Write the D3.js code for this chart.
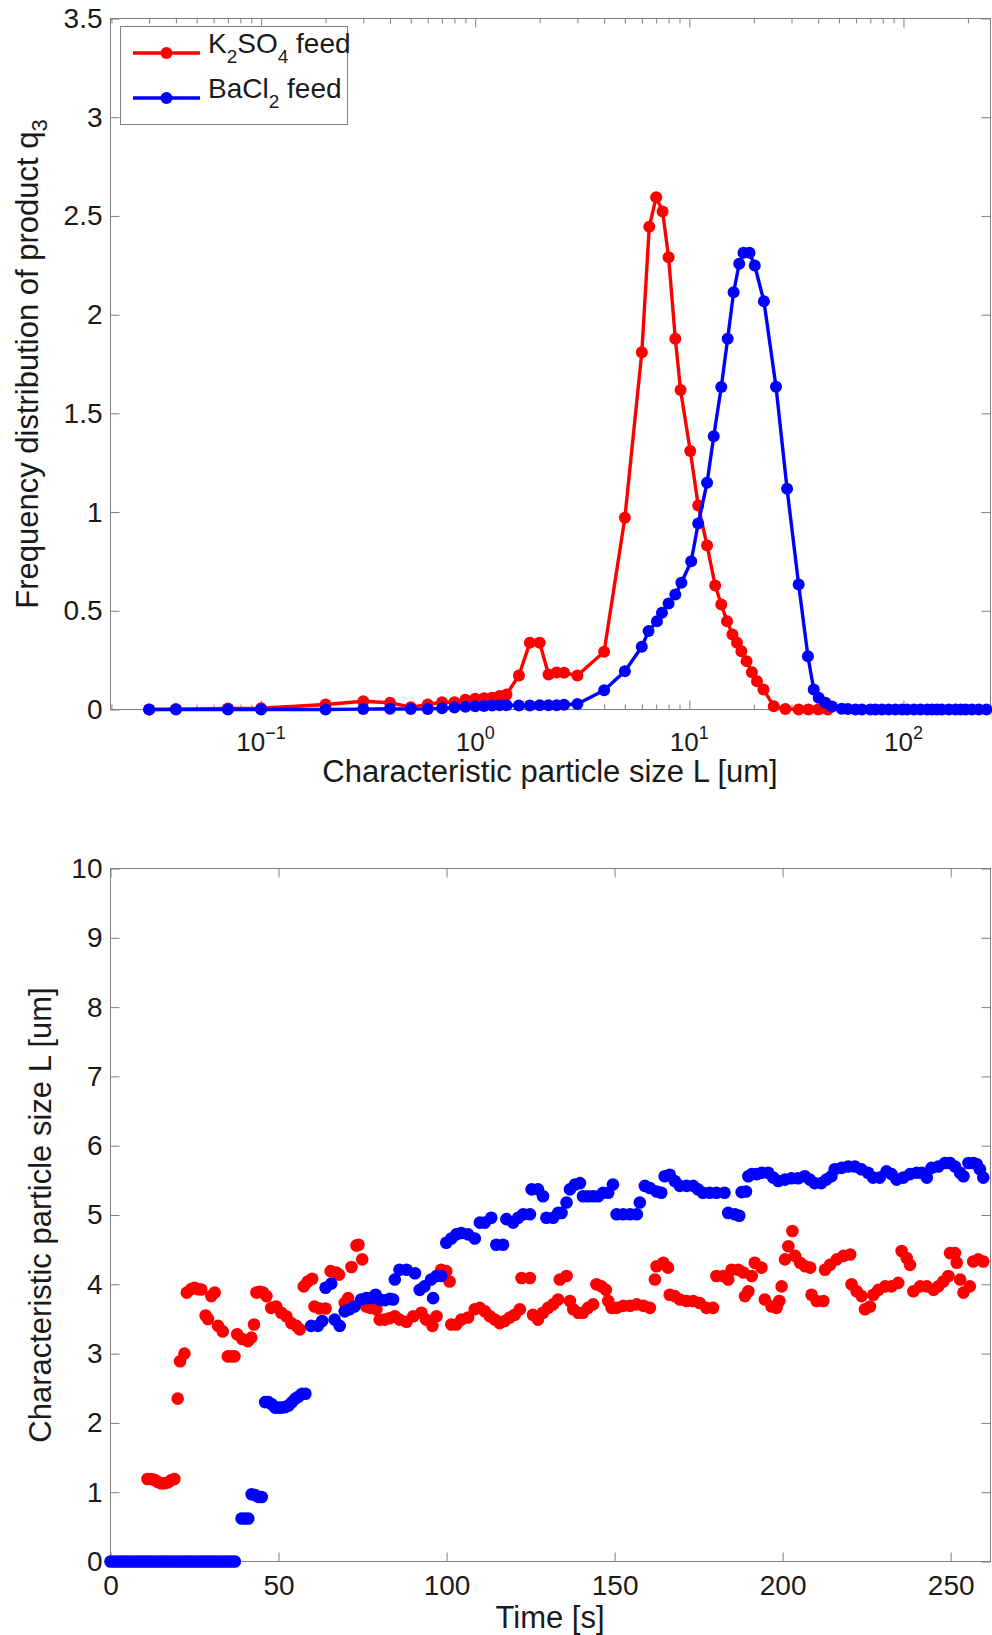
<!DOCTYPE html>
<html>
<head>
<meta charset="utf-8">
<script src="https://cdn.jsdelivr.net/npm/d3@7"></script>
<style>
  body { margin: 0; background: #fff; }
  svg { display: block; font-family: "Liberation Sans", Arial, Helvetica, sans-serif; }
</style>
</head>
<body>
<svg id="fig" width="992" height="1635"></svg>
<script>
// ---------- Product size distribution (q3 vs L) ----------
const sizeK2SO4 = [0.03, 0.04, 0.07, 0.1, 0.2, 0.3, 0.4, 0.5, 0.6, 0.7, 0.8, 0.9, 1.0, 1.1, 1.2, 1.3, 1.4,
  1.6, 1.8, 2.0, 2.2, 2.4, 2.6, 3.0, 4.0, 5.0, 6.0, 6.5, 7.0, 7.5, 8.0, 8.6, 9.1, 10.1, 11.0, 12.1,
  13.2, 14.1, 15.0, 15.9, 16.7, 17.5, 18.5, 19.6, 20.7, 22.2, 24.8, 28.1, 32.4, 36.0, 40.0, 44.3];
const q3K2SO4 = [0, 0.002, 0.005, 0.006, 0.025, 0.042, 0.034, 0.012, 0.025, 0.037, 0.037, 0.05, 0.054, 0.057, 0.06, 0.068, 0.076,
  0.172, 0.338, 0.338, 0.177, 0.187, 0.186, 0.172, 0.292, 0.971, 1.81, 2.445, 2.595, 2.523, 2.291, 1.878, 1.618, 1.309, 1.033, 0.831,
  0.628, 0.532, 0.447, 0.38, 0.338, 0.295, 0.245, 0.189, 0.143, 0.101, 0.017, 0.003, 0, 0, 0, 0];

const sizeBaCl2 = [0.03, 0.04, 0.07, 0.1, 0.2, 0.3, 0.4, 0.5, 0.6, 0.7, 0.8, 0.9, 1.0, 1.1, 1.2, 1.3, 1.4,
  1.6, 1.8, 2.0, 2.2, 2.4, 2.6, 3.0, 4.0, 5.0, 6.0, 6.45, 7.06, 7.45, 8.0, 8.6, 9.18, 10.2, 11.0, 12.1,
  13.0, 14.1, 15.1, 16.1, 17.1, 17.9, 19.1, 20.2, 22.3, 25.4, 28.6, 32.4, 35.8, 38.1, 40.2, 43.2, 46.4,
  51.5, 55, 59.7, 64, 70, 74, 79.4, 85.4, 91.8, 98.5, 104, 112, 120, 129, 136, 143.5, 151, 163, 175,
  185, 195, 209, 225, 244];
const q3BaCl2 = [0, 0, 0, 0, 0, 0.002, 0.004, 0.002, 0.003, 0.006, 0.01, 0.014, 0.016, 0.018, 0.02, 0.022, 0.022,
  0.02, 0.02, 0.022, 0.022, 0.022, 0.024, 0.028, 0.098, 0.194, 0.318, 0.397, 0.447, 0.49, 0.537, 0.583, 0.642, 0.751, 0.942, 1.148,
  1.384, 1.633, 1.878, 2.114, 2.258, 2.313, 2.313, 2.249, 2.068, 1.635, 1.118, 0.633, 0.27, 0.101, 0.059, 0.034, 0.015,
  0.004, 0.002, 0, 0, 0, 0, 0, 0, 0, 0, 0, 0, 0, 0, 0, 0, 0, 0, 0,
  0, 0, 0, 0, 0];

const q3Ticks = [0, 0.5, 1, 1.5, 2, 2.5, 3, 3.5];
const sizeTickExponents = [-1, 0, 1, 2];

// ---------- Characteristic particle size over time ----------
const timeK2SO4 = [11, 12, 13, 14, 15, 16, 17, 18, 19, 20, 20.7, 22, 22.7, 24, 25, 26, 27, 28.3, 29, 30, 31, 32, 33.4,
  34.9, 36, 36.9, 37.7, 39.2, 40.9, 41.9, 42.7, 43.4, 44.4, 45.4, 46.4, 47.8, 49.3, 50.8, 52.3, 53.8, 55.3, 56.3,
  57.5, 58.7, 60, 60.7, 62.2, 64, 65.5, 67.2, 68, 69.7, 70.7, 71.7, 73.2, 73.8, 74.9, 76.1, 77.3, 79.1, 80.1, 81.6,
  83, 84.6, 86, 88.1, 90.1, 92.5, 93.9, 95.8, 97, 98.4, 99.9, 100.9, 101.4, 102.9, 104.4, 106.4, 108.4, 109.9,
  111.4, 112.9, 114.4, 115.8, 117.3, 118.8, 120.3, 121.8, 122.3, 124.8, 125.7, 127.2, 128.7, 130.2, 131.7, 133.2,
  133.7, 135.7, 136.7, 137.7, 139.2, 140.6, 142.1, 143.6, 144.6, 146.1, 147.4, 148.1, 149.1, 150.6, 152.6, 154.6,
  156.6, 158.6, 160.5, 162, 162.5, 164.5, 165.9, 166.4, 167.9, 169.4, 171.4, 173.4, 175.3, 177.3, 179.3, 180.3,
  182.3, 183.8, 184.8, 186.8, 188.3, 188.8, 189.8, 190.8, 191.7, 193.7, 194.7, 196.7, 198.2, 199, 199.7, 200.7,
  201.7, 202.9, 203.7, 205.2, 206.7, 208.2, 208.6, 210.1, 212.1, 212.6, 214.1, 216.1, 218.1, 220.1, 220.5, 222,
  223.5, 224.5, 226, 227, 228.5, 230.5, 232.4, 234.4, 235.4, 236.9, 237.9, 238.9, 240.9, 242.9, 244.9, 246.3,
  247.8, 249.3, 249.8, 251.3, 251.8, 252.8, 253.8, 255.7, 256.7, 258.2, 259.7];
const sizeLK2SO4 = [1.19, 1.19, 1.18, 1.15, 1.13, 1.13, 1.14, 1.17, 1.19, 2.35, 2.89, 3.0, 3.88, 3.93, 3.95, 3.93, 3.925, 3.55, 3.5, 3.83, 3.88, 3.4, 3.32,
  2.96, 2.96, 2.96, 3.28, 3.21, 3.18, 3.23, 3.42, 3.88, 3.89, 3.88, 3.83, 3.66, 3.68, 3.59, 3.54, 3.44, 3.40, 3.35,
  3.97, 4.04, 4.08, 3.68, 3.65, 3.65, 4.19, 4.17, 4.14, 3.73, 3.8, 4.25, 4.56, 4.57, 4.36, 3.68, 3.66, 3.64, 3.49, 3.49,
  3.51, 3.54, 3.49, 3.46, 3.54, 3.59, 3.49, 3.40, 3.54, 4.21, 4.19, 4.04, 3.42, 3.42, 3.49, 3.52, 3.64, 3.66,
  3.61, 3.54, 3.49, 3.44, 3.47, 3.52, 3.56, 3.64, 4.09, 4.09, 3.56, 3.49, 3.59, 3.66, 3.71, 3.78,
  4.07, 4.12, 3.76, 3.64, 3.59, 3.59, 3.66, 3.71, 4.0, 3.97, 3.92, 3.76, 3.66, 3.66, 3.69, 3.69,
  3.71, 3.69, 3.66, 4.07, 4.26, 4.31, 4.24, 3.85, 3.83, 3.78, 3.76, 3.76, 3.73, 3.66, 3.66, 4.12,
  4.12, 4.07, 4.21, 4.21, 4.17, 3.83, 3.90, 4.12, 4.31, 4.24, 3.78, 3.68, 3.66, 3.76, 3.97, 4.36,
  4.55, 4.77, 4.41, 4.31, 4.26, 4.24, 3.85, 3.76, 3.76, 4.21, 4.28, 4.36, 4.41, 4.43, 4.0, 3.90,
  3.83, 3.64, 3.68, 3.85, 3.92, 3.97, 3.97, 4.02, 4.48, 4.38, 4.28, 3.90, 3.97, 3.97, 3.92, 3.97,
  4.04, 4.12, 4.45, 4.45, 4.31, 4.07, 3.88, 3.97, 4.33, 4.36, 4.33];

const timeBaCl2 = [0, 1, 2, 3, 4, 5, 6, 7, 8, 9, 10, 11, 12, 13, 14, 15, 16, 17, 18, 19, 20, 21, 22, 23, 24, 25, 26,
  27, 28, 29, 30, 31, 32, 33, 34, 35, 36, 37, 39, 40, 41, 42, 43, 44, 45, 46, 47, 48, 49, 50, 51, 52, 53, 54, 55,
  56, 57, 58, 59.7, 61.7, 63, 64, 65.7, 66.7, 68.2, 69.7, 71.1, 72.6, 74.6, 76.1, 77.6, 78.9, 80.1, 81.6, 83.1,
  84.1, 84.6, 86, 88.1, 90.6, 92, 93.4, 95.4, 96, 97, 98.4, 99.9, 101.4, 102.9, 104.4, 106.4, 108.4, 109.9, 111.4,
  113.3, 114.8, 116.8, 117.8, 119.8, 121.3, 122.8, 124.8, 125.3, 127.2, 128.7, 129.7, 131.7, 133.2, 134.2, 135.7,
  136.7, 138.2, 139.7, 140.6, 142.1, 143.6, 145.1, 146.6, 148.1, 149.5, 150.6, 152.6, 154.6, 156.6, 157.5, 159,
  160.5, 162.5, 163.9, 164.9, 166.4, 167.9, 169.4, 171.4, 173.4, 174.8, 176.3, 178.3, 180.3, 182.7, 183.8, 185.8,
  187.1, 187.8, 189.1, 189.8, 190.8, 192.3, 193.8, 195.7, 197.2, 198.7, 200.7, 202.6, 204.6, 206.6, 208.1, 209.5,
  211.5, 213, 214.5, 215.5, 217.5, 219.5, 221.5, 223.4, 225.4, 226.9, 228.9, 230.9, 232.4, 233.9, 235.9, 237.9,
  239.9, 241.4, 242.9, 244.3, 246.3, 248.3, 249.8, 251.3, 252.8, 253.8, 255.3, 256.8, 257.8, 258.7, 259.7];
const sizeLBaCl2 = [0, 0, 0, 0, 0, 0, 0, 0, 0, 0, 0, 0, 0, 0, 0, 0, 0, 0, 0, 0, 0, 0, 0, 0, 0, 0, 0,
  0, 0, 0, 0, 0, 0, 0, 0, 0, 0, 0, 0.62, 0.62, 0.62, 0.97, 0.96, 0.93, 0.93, 2.3, 2.3, 2.27, 2.22, 2.22, 2.22, 2.23, 2.25, 2.3, 2.35,
  2.38, 2.42, 2.42, 3.40, 3.40, 3.47, 3.95, 4.01, 3.49, 3.40, 3.61, 3.64, 3.68, 3.78, 3.8, 3.8, 3.85, 3.78, 3.77, 3.79,
  3.78, 4.07, 4.21, 4.21, 4.16, 3.92, 3.97, 4.07, 3.80, 4.12, 4.12, 4.60, 4.66, 4.72, 4.74, 4.72, 4.66, 4.89, 4.89,
  4.96, 4.57, 4.57, 4.94, 4.89, 4.96, 5.01, 5.01, 5.37, 5.37, 5.27, 4.96, 4.96, 5.03, 5.03, 5.18,
  5.37, 5.44, 5.46, 5.27, 5.27, 5.27, 5.27, 5.32, 5.32, 5.44, 5.01, 5.01, 5.01, 5.01, 5.18, 5.42,
  5.39, 5.34, 5.32, 5.56, 5.58, 5.49, 5.42, 5.42, 5.42, 5.37, 5.32, 5.32, 5.32, 5.32, 5.03, 5.01,
  4.99, 5.33, 5.34, 5.56, 5.59, 5.59, 5.61, 5.61, 5.54, 5.49, 5.51, 5.53, 5.53, 5.56, 5.51, 5.46,
  5.46, 5.51, 5.56, 5.66, 5.68, 5.70, 5.70, 5.66, 5.61, 5.54, 5.54, 5.63, 5.59, 5.51, 5.54, 5.59,
  5.61, 5.61, 5.54, 5.68, 5.70, 5.75, 5.75, 5.70, 5.61, 5.56, 5.75, 5.75, 5.73, 5.66, 5.54];

const timeTicks = [0, 50, 100, 150, 200, 250];
const sizeLTicks = [0, 1, 2, 3, 4, 5, 6, 7, 8, 9, 10];

// ---------- drawing ----------
const RED = "#ff0000", BLUE = "#0000ff", AXIS = "#808080", TEXT = "#1a1a1a";
const svg = d3.select("#fig");

const zip = (xs, ys) => xs.map((x, i) => [x, ys[i]]);

function styleAxis(g) {
  g.select(".domain").remove();
  g.selectAll(".tick line").attr("stroke", AXIS).attr("stroke-width", 1);
  g.selectAll(".tick text").attr("fill", TEXT).attr("font-size", 28);
}

function frame(x0, x1, y0, y1) {
  svg.append("rect")
    .attr("x", x0).attr("y", y0).attr("width", x1 - x0).attr("height", y1 - y0)
    .attr("fill", "none").attr("stroke", AXIS).attr("stroke-width", 1);
}

// ===== top panel =====
const T = { left: 110.5, right: 990.5, top: 18.5, bottom: 709.5 };
const xTop = d3.scaleLog().domain([0.0198, 255]).range([T.left, T.right]);
const yTop = d3.scaleLinear().domain([0, 3.5]).range([T.bottom, T.top]);

const majors = sizeTickExponents.map(e => Math.pow(10, e));
const minors = [];
for (let e = -2; e <= 2; e++) {
  for (let k = 2; k <= 9; k++) {
    const v = k * Math.pow(10, e);
    if (v > xTop.domain()[0] && v < xTop.domain()[1]) minors.push(v);
  }
}

svg.append("g").attr("transform", `translate(0,${T.bottom})`)
  .call(d3.axisBottom(xTop).tickValues(majors).tickSize(-9).tickFormat("")).call(styleAxis);
svg.append("g").attr("transform", `translate(0,${T.bottom})`)
  .call(d3.axisBottom(xTop).tickValues(minors).tickSize(-5).tickFormat("")).call(styleAxis);
svg.append("g").attr("transform", `translate(0,${T.top})`)
  .call(d3.axisTop(xTop).tickValues(majors).tickSize(-9).tickFormat("")).call(styleAxis);
svg.append("g").attr("transform", `translate(0,${T.top})`)
  .call(d3.axisTop(xTop).tickValues(minors).tickSize(-5).tickFormat("")).call(styleAxis);
svg.append("g").attr("transform", `translate(${T.left},0)`)
  .call(d3.axisLeft(yTop).tickValues(q3Ticks).tickSize(-9).tickPadding(8).tickFormat(d => String(d)))
  .call(styleAxis);
svg.append("g").attr("transform", `translate(${T.right},0)`)
  .call(d3.axisRight(yTop).tickValues(q3Ticks).tickSize(-9).tickFormat("")).call(styleAxis);
frame(T.left, T.right, T.top, T.bottom);

// decade labels 10^n
const decade = svg.append("g").attr("fill", TEXT);
sizeTickExponents.forEach(e => {
  const t = decade.append("text").attr("x", xTop(Math.pow(10, e))).attr("y", T.bottom + 41)
    .attr("text-anchor", "middle");
  t.append("tspan").attr("font-size", 26).text("10");
  t.append("tspan").attr("font-size", 18).attr("dy", -12).text(e < 0 ? "\u2212" + Math.abs(e) : String(e));
});

svg.append("text").attr("x", 550).attr("y", 782).attr("text-anchor", "middle")
  .attr("font-size", 31).attr("fill", TEXT).text("Characteristic particle size L [um]");

const yLabTop = svg.append("text").attr("transform", `translate(38,${(T.top + T.bottom) / 2}) rotate(-90)`)
  .attr("text-anchor", "middle").attr("font-size", 31).attr("fill", TEXT);
yLabTop.append("tspan").text("Frequency distribution of product q");
yLabTop.append("tspan").attr("font-size", 22).attr("dy", 9).text("3");

const lineTop = d3.line().x(d => xTop(d[0])).y(d => yTop(d[1]));
const seriesTop = [
  { pts: zip(sizeK2SO4, q3K2SO4), color: RED },
  { pts: zip(sizeBaCl2, q3BaCl2), color: BLUE }
];
seriesTop.forEach(s => {
  svg.append("path").datum(s.pts).attr("d", lineTop)
    .attr("fill", "none").attr("stroke", s.color).attr("stroke-width", 3.4).attr("stroke-linejoin", "round");
  svg.append("g").selectAll("circle").data(s.pts).join("circle")
    .attr("cx", d => xTop(d[0])).attr("cy", d => yTop(d[1])).attr("r", 6).attr("fill", s.color);
});

// legend
const leg = svg.append("g");
leg.append("rect").attr("x", 120.5).attr("y", 26.5).attr("width", 227).attr("height", 98)
  .attr("fill", "#fff").attr("stroke", AXIS).attr("stroke-width", 1);
const legendItems = [
  { color: RED, y: 53, parts: [["K", 0], ["2", 1], ["SO", 0], ["4", 1], [" feed", 0]] },
  { color: BLUE, y: 98, parts: [["BaCl", 0], ["2", 1], [" feed", 0]] }
];
legendItems.forEach(it => {
  leg.append("line").attr("x1", 133).attr("x2", 200).attr("y1", it.y).attr("y2", it.y)
    .attr("stroke", it.color).attr("stroke-width", 3.4);
  leg.append("circle").attr("cx", 166.5).attr("cy", it.y).attr("r", 6).attr("fill", it.color);
  const t = leg.append("text").attr("x", 208).attr("y", it.y).attr("font-size", 28).attr("fill", TEXT);
  let sub = 0;
  it.parts.forEach(([s, isSub]) => {
    const ts = t.append("tspan").text(s);
    if (isSub && !sub) { ts.attr("dy", 10).attr("font-size", 19); sub = 1; }
    else if (!isSub && sub) { ts.attr("dy", -10); sub = 0; }
  });
});

// ===== bottom panel =====
const B = { left: 110.5, right: 990.5, top: 868.5, bottom: 1561.5 };
const xBot = d3.scaleLinear().domain([0, 261.85]).range([B.left, B.right]);
const yBot = d3.scaleLinear().domain([0, 10]).range([B.bottom, B.top]);

svg.append("g").attr("transform", `translate(0,${B.bottom})`)
  .call(d3.axisBottom(xBot).tickValues(timeTicks).tickSize(-9).tickPadding(14).tickFormat(d => String(d)))
  .call(styleAxis);
svg.append("g").attr("transform", `translate(0,${B.top})`)
  .call(d3.axisTop(xBot).tickValues(timeTicks).tickSize(-9).tickFormat("")).call(styleAxis);
svg.append("g").attr("transform", `translate(${B.left},0)`)
  .call(d3.axisLeft(yBot).tickValues(sizeLTicks).tickSize(-9).tickPadding(8).tickFormat(d => String(d)))
  .call(styleAxis);
svg.append("g").attr("transform", `translate(${B.right},0)`)
  .call(d3.axisRight(yBot).tickValues(sizeLTicks).tickSize(-9).tickFormat("")).call(styleAxis);
frame(B.left, B.right, B.top, B.bottom);

svg.append("text").attr("x", 550).attr("y", 1628).attr("text-anchor", "middle")
  .attr("font-size", 31).attr("fill", TEXT).text("Time [s]");
svg.append("text").attr("transform", `translate(51,${(B.top + B.bottom) / 2}) rotate(-90)`)
  .attr("text-anchor", "middle").attr("font-size", 31).attr("fill", TEXT)
  .text("Characteristic particle size L [um]");

const seriesBot = [
  { pts: zip(timeK2SO4, sizeLK2SO4), color: RED },
  { pts: zip(timeBaCl2, sizeLBaCl2), color: BLUE }
];
seriesBot.forEach(s => {
  svg.append("g").selectAll("circle").data(s.pts).join("circle")
    .attr("cx", d => xBot(d[0])).attr("cy", d => yBot(d[1])).attr("r", 6.3).attr("fill", s.color);
});
</script>
</body>
</html>
